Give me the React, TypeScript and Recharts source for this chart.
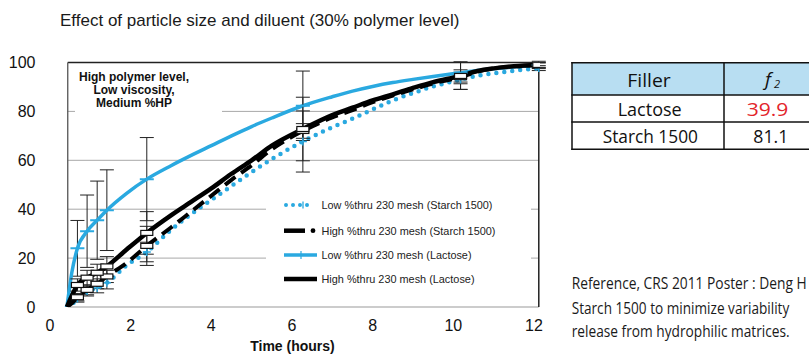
import React from 'react';
import { ComposedChart, Line, XAxis, YAxis, ErrorBar, ReferenceLine } from 'recharts';

// ---- data (time in hours, % released) ----
const times = [0.42, 0.54, 0.68, 0.92, 1.17, 1.41, 1.9, 2.4, 3.0, 3.5, 4.0, 4.5, 5.0, 5.5, 6.27, 7.0, 7.5, 8.0, 8.5, 9.0, 9.5, 10.18, 10.6, 11.0, 11.5, 12.12];
const starchLow = [0, 1, 3.5, 6.5, 7.8, 9.9, 17, 22.5, 31.5, 38, 43.8, 49.5, 55.2, 60.5, 67.7, 73.5, 77, 80.8, 84.5, 87.5, 90.2, 93, 94.6, 95.6, 96.6, 97.7];
const starchHigh = [0, 1.5, 4, 7, 9.5, 12.5, 18, 25, 32.5, 39, 45.5, 52, 58, 64.5, 72, 77.5, 80.5, 83.8, 86.5, 89, 91.5, 94, 96.3, 97.6, 98.3, 98.8];
const lactoseLow = [0, 14, 24, 31, 35.5, 39.6, 46.5, 52.3, 57.8, 62, 66, 70, 73.8, 77.3, 82.3, 86, 88.3, 90.2, 91.8, 93.1, 94.3, 95.8, 96.7, 97.4, 98.2, 99];
const lactoseHigh = [0, 4.5, 9, 12, 14, 16.6, 23.5, 30.3, 37.5, 43, 48.5, 54.5, 60, 66, 72.8, 78.5, 81.5, 84.5, 87, 89.6, 92, 94.5, 96.5, 97.6, 98.5, 99];

const N = null;
const errStarchLow = [N, N, 1.5, 2, 2, 2.5, N, 4, N, N, N, N, N, N, 12.5, N, N, N, N, N, N, 4, N, N, N, 1];
const errStarchHigh = [N, N, 1.5, 2, 2, 2.5, N, 8, N, N, N, N, N, N, 3, N, N, N, N, N, N, 2, N, N, N, 1];
const errLactoseLow = [N, N, 11.4, 14.8, 16, 16.5, N, 17, N, N, N, N, N, N, 14.2, N, N, N, N, N, N, 4.5, N, N, N, 1.5];
const errLactoseHigh = [N, N, 2.5, 3, 3.5, 4, N, 8.7, N, N, N, N, N, N, 13, N, N, N, N, N, N, 5.5, N, N, N, 1];

const xTicks = [0, 2, 4, 6, 8, 10, 12];
const yTicks = [0, 20, 40, 60, 80, 100];
const gridValues = [20, 40, 60, 80];

const seriesNames = [
  'Low %thru 230 mesh (Starch 1500)',
  'High %thru 230 mesh (Starch 1500)',
  'Low %thru 230 mesh (Lactose)',
  'High %thru 230 mesh (Lactose)',
];

const title = 'Effect of particle size and diluent (30% polymer level)';
const annotation = ['High polymer level,', 'Low viscosity,', 'Medium %HP'];
const tableHeader = ['Filler', 'f'];
const tableRows = [
  ['Lactose', '39.9'],
  ['Starch 1500', '81.1'],
];
const referenceLines = [
  'Reference, CRS 2011 Poster : Deng H',
  'Starch 1500 to minimize variability',
  'release from hydrophilic matrices.',
];

const data = times.map((t, i) => ({
  t,
  sl: starchLow[i],
  sh: starchHigh[i],
  ll: lactoseLow[i],
  lh: lactoseHigh[i],
  esl: errStarchLow[i],
  esh: errStarchHigh[i],
  ell: errLactoseLow[i],
  elh: errLactoseHigh[i],
}));

const BLUE = '#2aa9e0';
const ARIAL = 'Liberation Sans, Arial, sans-serif';
const OPEN = 'Open Sans, Noto Sans, sans-serif';
const frameL = 0.44;
const frameR = 12.12;

const dotBlueTick = (props: any) => {
  const { cx, cy, payload, index } = props;
  if (payload.ell == null || cx == null) return <g key={'a' + index} />;
  return <line key={'a' + index} x1={cx - 7} x2={cx + 7} y1={cy} y2={cy} stroke={BLUE} strokeWidth={2} />;
};
const dotPlus = (props: any) => {
  const { cx, cy, payload, index } = props;
  if (payload.esl == null || cx == null) return <g key={'b' + index} />;
  return (
    <g key={'b' + index}>
      <line x1={cx - 4} x2={cx + 4} y1={cy} y2={cy} stroke={BLUE} strokeWidth={1.5} />
      <line x1={cx} x2={cx} y1={cy - 4} y2={cy + 4} stroke={BLUE} strokeWidth={1.5} />
    </g>
  );
};
const makeBox = (key: string) => (props: any) => {
  const { cx, cy, payload, index } = props;
  if (payload[key] == null || cx == null) return <g key={key + index} />;
  return <rect key={key + index} x={cx - 6} y={cy - 2.5} width={12} height={5} fill="#fff" stroke="#111" strokeWidth={1.2} />;
};

export default function App() {
  const tickStyle = { fontSize: 16, fill: '#111', fontFamily: ARIAL };
  return (
    <div style={{ position: 'absolute', left: 0, top: 0, width: 809, height: 354, background: '#fff', overflow: 'hidden' }}>
      <div style={{ position: 'absolute', left: 0, top: 0 }}>
        <ComposedChart width={809} height={354} data={data} margin={{ top: 62.5, right: 269, bottom: 17, left: 0 }}>
          <XAxis
            dataKey="t"
            type="number"
            domain={[0, 12.15]}
            ticks={xTicks}
            interval={0}
            allowDataOverflow
            axisLine={false}
            tickLine={false}
            tickSize={0}
            tickMargin={13}
            height={30}
            tick={tickStyle}
          />
          <YAxis
            type="number"
            domain={[0, 100]}
            ticks={yTicks}
            interval={0}
            allowDataOverflow
            axisLine={false}
            tickLine={false}
            tickSize={0}
            tickMargin={14.5}
            width={50}
            tick={tickStyle}
          />
          {gridValues.map((g) => (
            <ReferenceLine key={g} segment={[{ x: frameL, y: g }, { x: frameR, y: g }]} stroke="#a8a8a8" strokeWidth={1} />
          ))}
          <ReferenceLine segment={[{ x: frameL, y: 0 }, { x: frameR, y: 0 }]} stroke="#9a9a9a" strokeWidth={1.2} />
          <ReferenceLine segment={[{ x: frameL, y: 100 }, { x: frameR, y: 100 }]} stroke="#222" strokeWidth={1.5} />
          <ReferenceLine segment={[{ x: frameL, y: 0 }, { x: frameL, y: 100 }]} stroke="#555" strokeWidth={1.3} />
          <ReferenceLine segment={[{ x: frameR, y: 0 }, { x: frameR, y: 100 }]} stroke="#222" strokeWidth={1.5} />

          <Line dataKey="sl" type="monotone" stroke={BLUE} strokeWidth={4.5} strokeDasharray="0 8" strokeLinecap="round" dot={dotPlus} activeDot={false} isAnimationActive={false}>
            <ErrorBar dataKey="esl" direction="y" width={7} stroke="#222" strokeWidth={1} />
          </Line>
          <Line dataKey="sh" type="monotone" stroke="#000" strokeWidth={4} strokeDasharray="13 7" dot={makeBox('esh')} activeDot={false} isAnimationActive={false}>
            <ErrorBar dataKey="esh" direction="y" width={7} stroke="#222" strokeWidth={1} />
          </Line>
          <Line dataKey="ll" type="monotone" stroke={BLUE} strokeWidth={3.5} dot={dotBlueTick} activeDot={false} isAnimationActive={false}>
            <ErrorBar dataKey="ell" direction="y" width={7} stroke="#222" strokeWidth={1} />
          </Line>
          <Line dataKey="lh" type="monotone" stroke="#000" strokeWidth={4.5} dot={makeBox('elh')} activeDot={false} isAnimationActive={false}>
            <ErrorBar dataKey="elh" direction="y" width={7} stroke="#222" strokeWidth={1} />
          </Line>
        </ComposedChart>
      </div>

      <svg width={809} height={354} style={{ position: 'absolute', left: 0, top: 0, pointerEvents: 'none' }}>
        {/* title */}
        <text x={60} y={26} fontFamily={ARIAL} fontSize={17} fill="#1a1a1a">{title}</text>

        {/* annotation box */}
        <rect x={75} y={66} width={147} height={50} fill="#fff" />
        {annotation.map((s, i) => (
          <text key={s} x={134} y={80.7 + i * 13} textAnchor="middle" fontFamily={ARIAL} fontWeight="bold" fontSize={12} fill="#111">{s}</text>
        ))}

        {/* legend */}
        <rect x={266} y={188} width={265} height={112} fill="#fff" />
        <line x1={286} x2={314} y1={205} y2={205} stroke={BLUE} strokeWidth={4} strokeDasharray="0 7" strokeLinecap="round" />
        <line x1={303} x2={303} y1={201.5} y2={208.5} stroke={BLUE} strokeWidth={1.3} />
        <line x1={284} x2={305} y1={230.7} y2={230.7} stroke="#000" strokeWidth={4.5} />
        <circle cx={313} cy={230.7} r={2.4} fill="#000" />
        <line x1={284} x2={317} y1={255} y2={255} stroke={BLUE} strokeWidth={3.5} />
        <line x1={301} x2={301} y1={251} y2={259} stroke={BLUE} strokeWidth={1.2} />
        <line x1={284} x2={317} y1={279} y2={279} stroke="#000" strokeWidth={4.5} />
        {seriesNames.map((s, i) => {
          const ys = [209, 234.8, 259, 283];
          const ws = [171, 174, 150, 153];
          return (
            <text key={s} x={321.5} y={ys[i]} fontFamily={ARIAL} fontSize={11.5} fill="#222" textLength={ws[i]} lengthAdjust="spacingAndGlyphs">{s}</text>
          );
        })}

        {/* x axis title */}
        <text x={292.5} y={350.5} textAnchor="middle" fontFamily={ARIAL} fontWeight="bold" fontSize={14} fill="#111">Time (hours)</text>

        {/* table */}
        <rect x={572} y={62.7} width={260} height={32.3} fill="#b8def2" />
        <rect x={572} y={95} width={260} height={54.3} fill="#fff" />
        {[62.7, 95, 122, 149.3].map((y) => (
          <line key={y} x1={571.3} x2={832} y1={y} y2={y} stroke="#111" strokeWidth={1.5} />
        ))}
        <line x1={572} x2={572} y1={62} y2={150} stroke="#111" strokeWidth={1.5} />
        <line x1={724} x2={724} y1={62} y2={150} stroke="#111" strokeWidth={1.5} />
        <text x={649} y={86.7} textAnchor="middle" fontFamily={OPEN} fontSize={17.5} fill="#111" textLength={43.4} lengthAdjust="spacingAndGlyphs">{tableHeader[0]}</text>
        <text x={765} y={86} fontFamily={OPEN} fontSize={19} fontStyle="italic" fill="#111">{tableHeader[1]}</text>
        <text x={774} y={87.5} fontFamily={OPEN} fontSize={11} fontStyle="italic" fill="#111">2</text>
        <text x={649.7} y={116} textAnchor="middle" fontFamily={OPEN} fontSize={17.5} fill="#111" textLength={64} lengthAdjust="spacingAndGlyphs">{tableRows[0][0]}</text>
        <text x={767.5} y={116} textAnchor="middle" fontFamily={OPEN} fontSize={17.5} fill="#e3242b" textLength={41.7} lengthAdjust="spacingAndGlyphs">{tableRows[0][1]}</text>
        <text x={650.3} y={142.7} textAnchor="middle" fontFamily={OPEN} fontSize={17.5} fill="#111" textLength={95.3} lengthAdjust="spacingAndGlyphs">{tableRows[1][0]}</text>
        <text x={770.8} y={142.7} textAnchor="middle" fontFamily={OPEN} fontSize={17.5} fill="#111" textLength={35} lengthAdjust="spacingAndGlyphs">{tableRows[1][1]}</text>

        {/* reference text */}
        {referenceLines.map((s, i) => {
          const ys = [289.3, 314, 337.5];
          const ws = [235, 217.6, 218];
          return (
            <text key={s} x={571.7} y={ys[i]} fontFamily={OPEN} fontSize={13.2} fill="#1a1a1a" textLength={ws[i]} lengthAdjust="spacingAndGlyphs" transform={`translate(0 ${ys[i]}) scale(1 1.29) translate(0 ${-ys[i]})`}>{s}</text>
          );
        })}
      </svg>
    </div>
  );
}
